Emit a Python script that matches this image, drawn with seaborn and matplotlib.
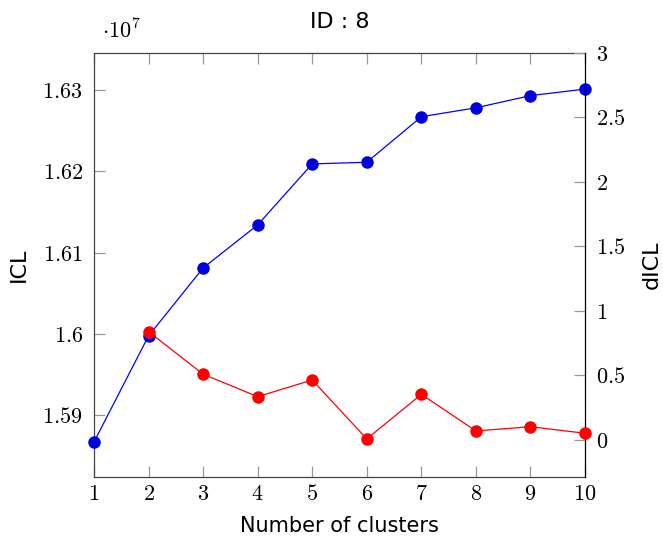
import matplotlib
matplotlib.use("Agg")
import matplotlib.pyplot as plt
import seaborn as sns
import pandas as pd
from matplotlib.ticker import FixedLocator

clusters = [1, 2, 3, 4, 5, 6, 7, 8, 9, 10]
icl = [15867000, 15997500, 16081000, 16134000, 16209000, 16211000, 16267000, 16278000, 16293000, 16301000]
dicl = [None, 0.84, 0.51, 0.336, 0.465, 0.008, 0.354, 0.07, 0.103, 0.052]
left_ticks = [1.59e7, 1.60e7, 1.61e7, 1.62e7, 1.63e7]
left_labels = ["1.59", "1.6", "1.61", "1.62", "1.63"]
right_ticks = [0, 0.5, 1, 1.5, 2, 2.5, 3]
right_labels = ["0", "0.5", "1", "1.5", "2", "2.5", "3"]

sns.set_theme(style="white")
plt.rcParams["font.family"] = ["DejaVu Sans"]
plt.rcParams["mathtext.fontset"] = "cm"
plt.rcParams["text.color"] = "black"
plt.rcParams["axes.labelcolor"] = "black"
plt.rcParams["xtick.labelcolor"] = "black"
plt.rcParams["ytick.labelcolor"] = "black"

df = pd.DataFrame({"k": clusters, "icl": icl, "dicl": dicl})

fig = plt.figure(figsize=(6.63, 5.38), dpi=100)
ax = fig.add_axes([94/663, 61/538, (585-94)/663, (477-53)/538])
ax2 = ax.twinx()

sns.lineplot(data=df, x="k", y="icl", ax=ax, color="#0000ff", marker="o",
             markersize=9, markeredgewidth=0, markerfacecolor="#0000dd",
             linewidth=0.9, clip_on=False, zorder=3)
sns.lineplot(data=df.dropna(), x="k", y="dicl", ax=ax2, color="#ff0000", marker="o",
             markersize=9, markeredgewidth=0, linewidth=0.9, clip_on=False, zorder=3)

ax.set_xlim(1, 10)
ax.set_ylim(1.58239e7, 1.63454e7)
ax2.set_ylim(-0.287, 3.0)

ax.xaxis.set_major_locator(FixedLocator(clusters))
ax.set_xticklabels([f"${c}$" for c in clusters])
ax.yaxis.set_major_locator(FixedLocator(left_ticks))
ax.set_yticklabels([f"${l}$" for l in left_labels])
ax2.yaxis.set_major_locator(FixedLocator(right_ticks))
ax2.set_yticklabels([f"${l}$" for l in right_labels])

tick_col = "#9a9a9a"
ax.tick_params(axis="x", which="both", direction="in", length=8, width=0.9,
               color=tick_col, top=True, bottom=True, labelsize=16, pad=5)
ax.tick_params(axis="y", which="both", direction="in", length=8, width=0.9,
               color=tick_col, left=True, right=False, labelsize=16, pad=8)
ax2.tick_params(axis="y", which="both", direction="in", length=8, width=0.9,
                color=tick_col, right=True, left=False, labelsize=16, pad=8)

for sp in ax.spines.values():
    sp.set_color("#444444")
    sp.set_linewidth(0.9)
for name, sp in ax2.spines.items():
    sp.set_visible(name == "right")
    sp.set_color("black")
    sp.set_linewidth(0.9)
ax.spines["right"].set_visible(False)

ax.set_xlabel("Number of clusters", fontsize=15, labelpad=9)
ax.set_ylabel("ICL", fontsize=16, labelpad=10)
ax2.set_ylabel("dICL", fontsize=16, labelpad=12)
ax.set_title("ID : 8", fontsize=16, pad=18)

ax.text(0.016, 1.025, r"$\cdot 10^{7}$", transform=ax.transAxes, fontsize=16,
        ha="left", va="bottom")

fig.savefig("out.png", dpi=100)
